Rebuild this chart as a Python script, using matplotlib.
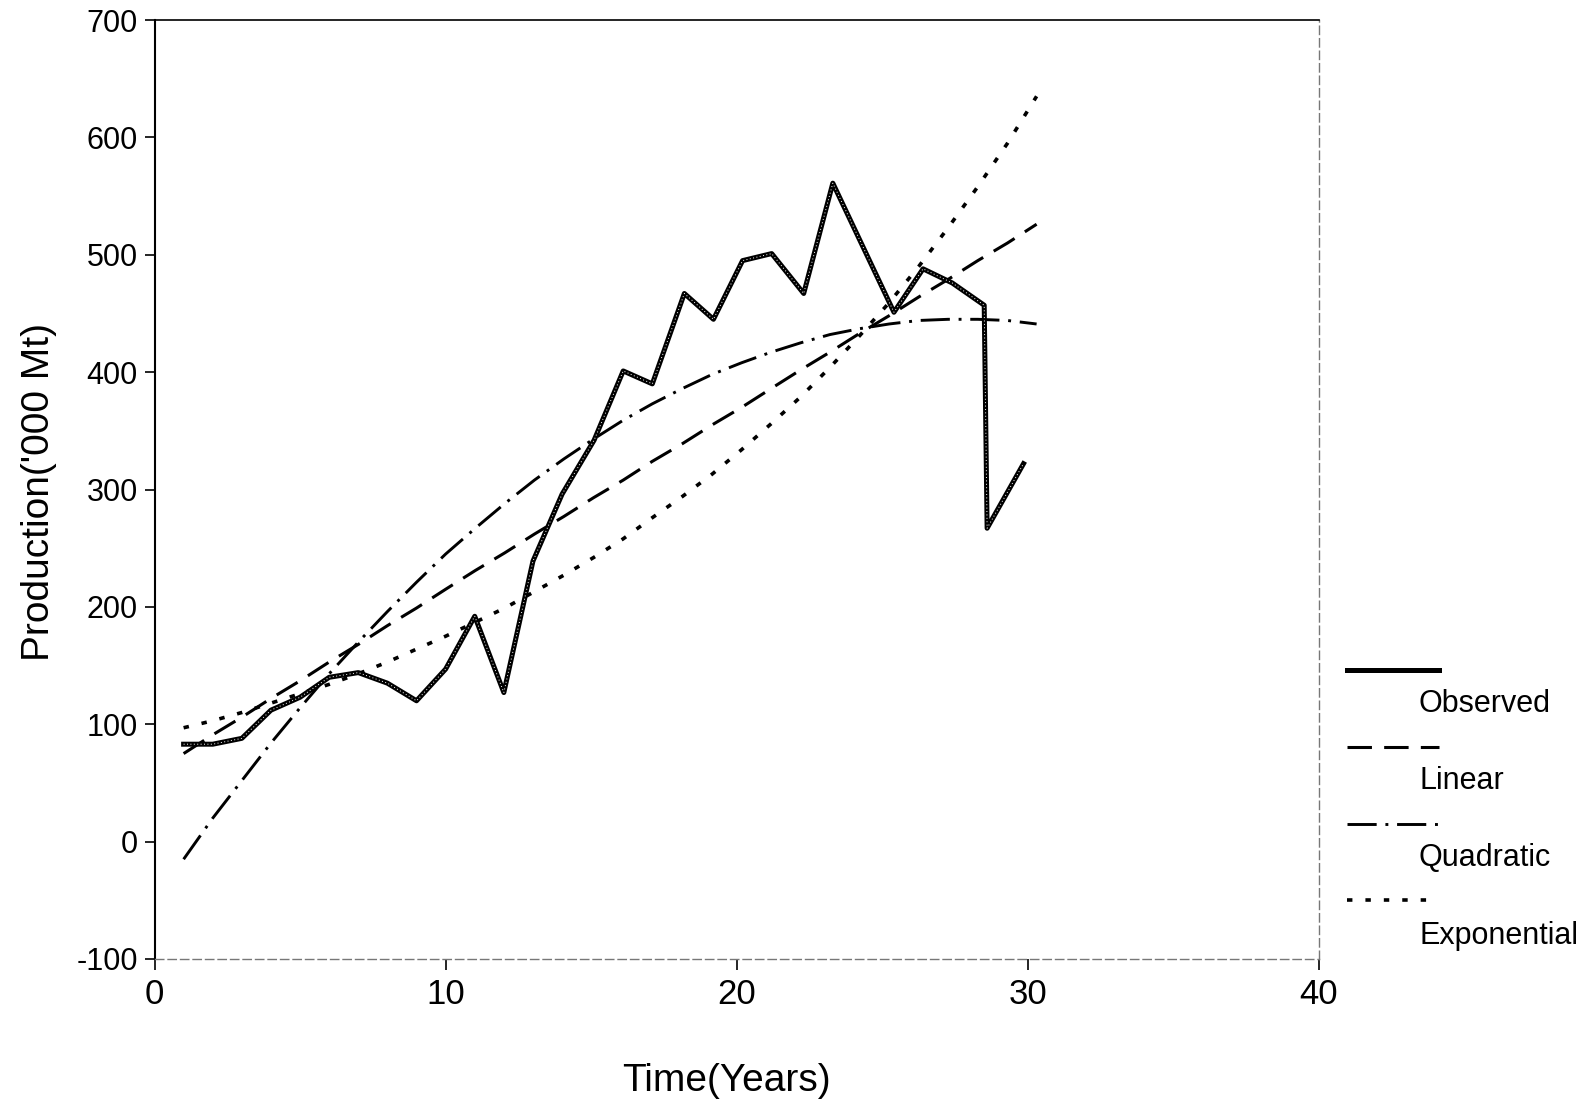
import matplotlib
matplotlib.use('Agg')
import matplotlib.pyplot as plt
from matplotlib.lines import Line2D
from matplotlib import font_manager

obs_time = [1, 2, 3, 4, 5, 6, 7, 8, 9, 10, 11, 12, 13, 14, 15.1, 16.1, 17.1, 18.2, 19.2, 20.2,
            21.2, 22.3, 23.3, 24.35, 25.4, 26.4, 27.4, 28.5, 28.6, 29.85]
observed = [83, 83, 88, 112, 123, 140, 144, 135, 120, 147, 192, 127, 239, 296, 342, 401, 390, 467, 445, 495,
            501, 467, 561, 506, 451, 488, 476, 457, 267, 322]

# Fitted trend curves
fit_time = [1, 2, 3, 4, 5, 6, 7, 8, 9, 10, 11.02, 12.03, 13.05, 14.06, 15.08, 16.1, 17.1, 18.13, 19.15, 20.17,
            21.18, 22.2, 23.2, 24.22, 25.23, 26.25, 27.26, 28.28, 29.3, 30.3]
linear = [75, 91, 106, 122, 137, 153, 168, 184, 199, 215, 231, 246, 262, 277, 293, 308, 324, 339, 355, 370,
          386, 402, 417, 433, 448, 464, 479, 495, 510, 526]
quadratic = [-15, 20, 52, 84, 114, 143, 170, 196, 221, 245, 267, 288, 308, 326, 343, 359, 373, 386, 398, 408,
             417, 425, 432, 437, 441, 444, 445, 445, 444, 441]
exponential = [97, 103, 110, 118, 126, 134, 143, 153, 164, 175, 187, 199, 213, 227, 242, 258, 276, 294, 313, 334,
               356, 379, 404, 431, 459, 490, 523, 558, 595, 635]

series_names = ['Observed', 'Linear', 'Quadratic', 'Exponential']
x_ticks = [0, 10, 20, 30, 40]
y_ticks = [-100, 0, 100, 200, 300, 400, 500, 600, 700]

installed = {f.name for f in font_manager.fontManager.ttflist}
narrow = 'Liberation Sans Narrow' if 'Liberation Sans Narrow' in installed else 'Liberation Sans'
regular = 'Liberation Sans'

W, H = 1591, 1103
fig = plt.figure(figsize=(W / 100, H / 100), dpi=100)
fig.patch.set_facecolor('white')
ax = fig.add_axes([154.5 / W, 1 - 959 / H, 1164.5 / W, 939 / H])

# line styles
obs_style = dict(color='black', lw=3.6, solid_joinstyle='round')
lin_style = dict(color='black', lw=2.2, linestyle=(0, (8, 4)))
quad_style = dict(color='black', lw=2.1, linestyle=(0, (10, 3, 1, 3)))
exp_style = dict(color='black', lw=2.6, linestyle=(0, (1.5, 3.6)))

ax.plot(fit_time, linear, **lin_style)
ax.plot(fit_time, quadratic, **quad_style)
ax.plot(fit_time, exponential, **exp_style)
ax.plot(obs_time, observed, **obs_style)
ax.plot(obs_time, observed, color='white', lw=0.7, linestyle=(0, (1, 2.5)))

ax.set_xlim(0, 40)
ax.set_ylim(-100, 700)
ax.set_xticks(x_ticks)
ax.set_yticks(y_ticks)
ax.set_xticklabels([str(v) for v in x_ticks], family=narrow, fontsize=25)
ax.set_yticklabels([str(v) for v in y_ticks], family=regular, fontsize=22)
ax.tick_params(axis='y', direction='out', length=7, width=1.2, pad=5)
ax.tick_params(axis='x', direction='out', length=8, width=1.2, pad=6)

ax.spines['left'].set_linewidth(1.5)
ax.spines['top'].set_linewidth(1.2)
for side in ['right', 'bottom']:
    ax.spines[side].set_linewidth(1.0)
    ax.spines[side].set_color('#777777')
    ax.spines[side].set_linestyle((0, (6, 3)))

ax.set_xlabel('Time(Years)', family=narrow, fontsize=28)
ax.set_ylabel("Production('000 Mt)", family=narrow, fontsize=28)
ax.xaxis.set_label_coords(0.491, -0.13)
ax.xaxis.label.set_va('center')
ax.yaxis.set_label_coords(-0.099, 0.497)
ax.yaxis.label.set_va('center')

# legend drawn to the right: line above, label below and indented
styles = [obs_style, lin_style, quad_style, exp_style]
line_y = [670, 747, 824, 900]
text_y = [704, 781, 858, 936]
for name, st, ly, ty in zip(series_names, styles, line_y, text_y):
    fig.add_artist(Line2D([1347 / W, 1439 / W], [1 - ly / H, 1 - ly / H], transform=fig.transFigure, **st))
    fig.text(1419 / W, 1 - ty / H, name, family=regular, fontsize=22, va='center', ha='left')

fig.savefig('out.png', dpi=100, facecolor='white')
